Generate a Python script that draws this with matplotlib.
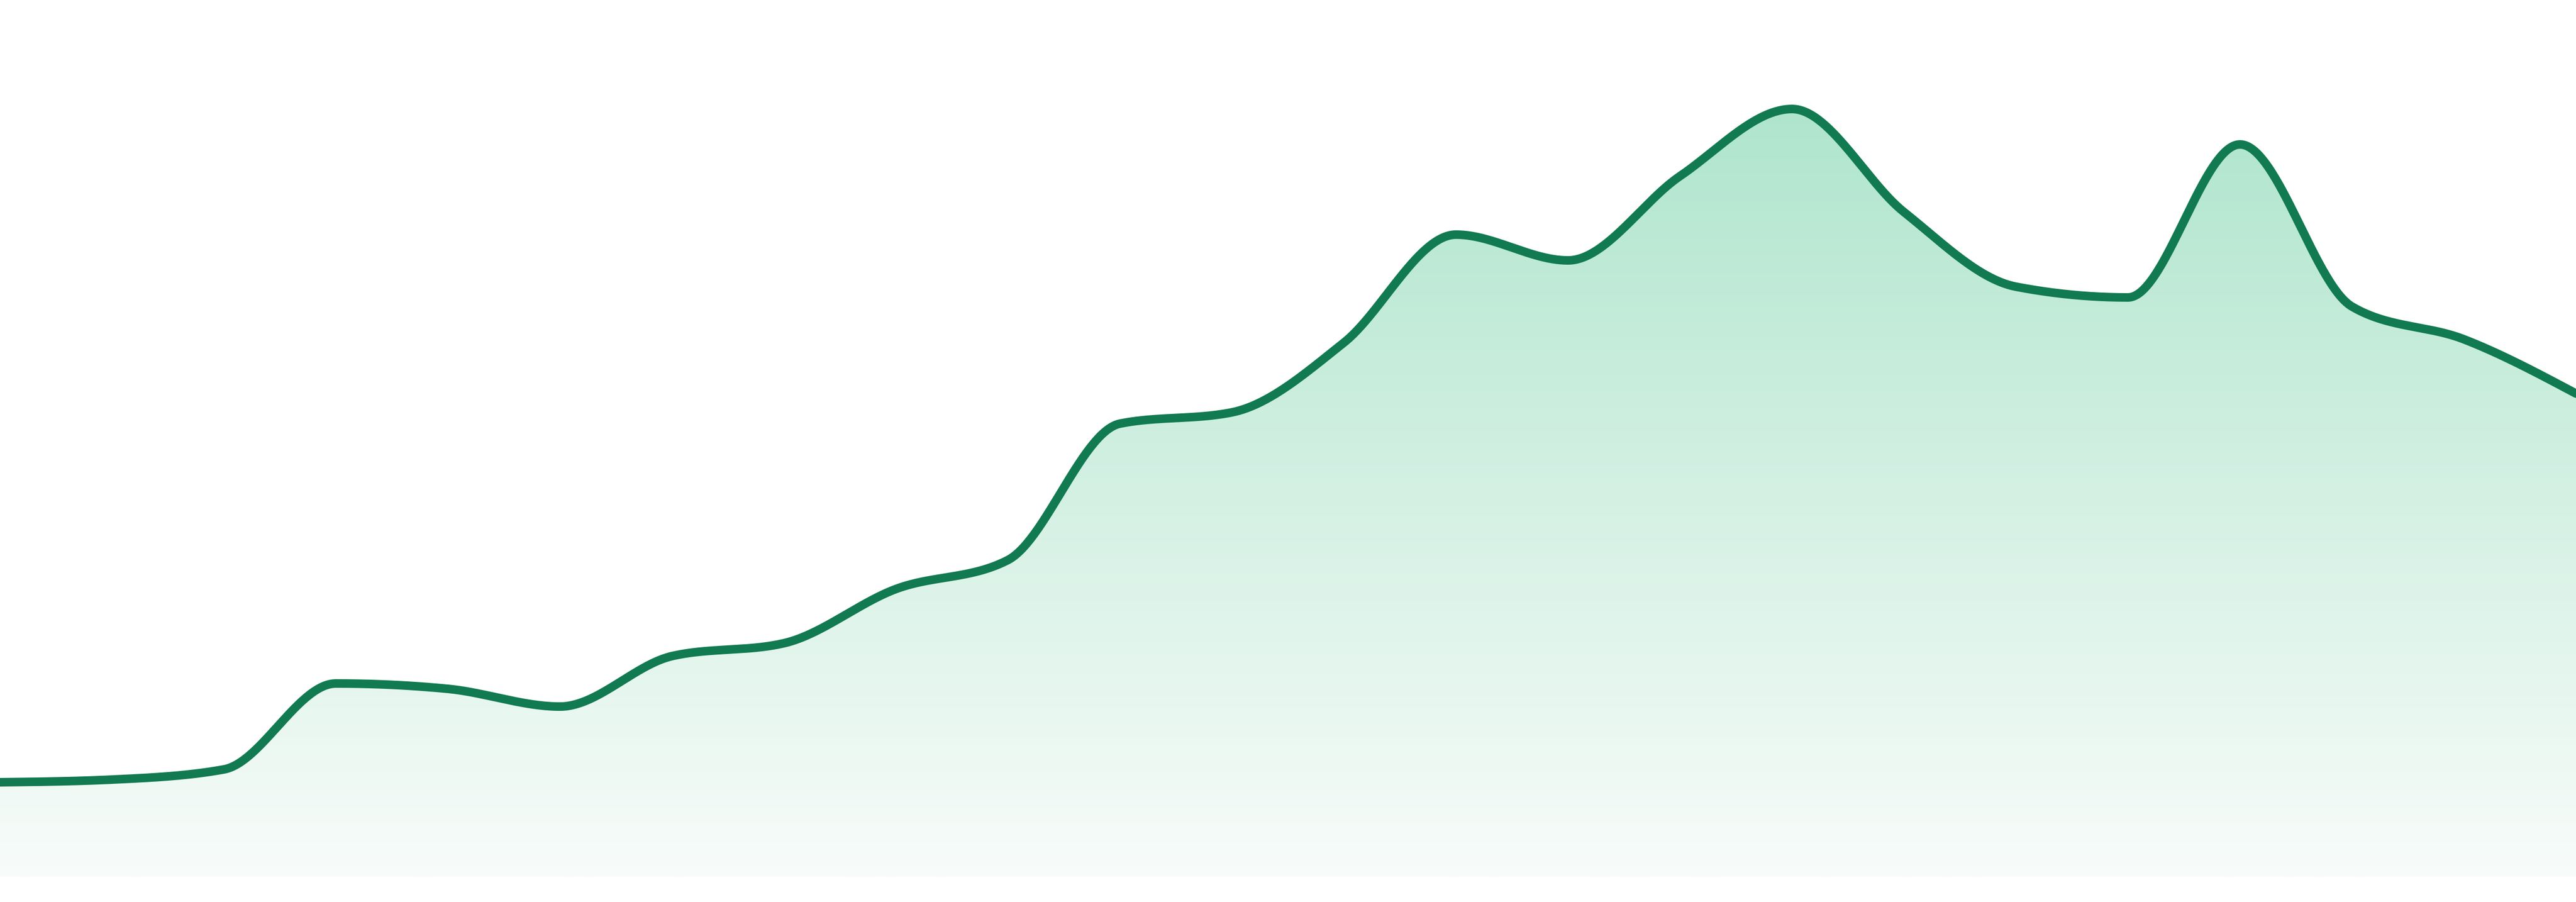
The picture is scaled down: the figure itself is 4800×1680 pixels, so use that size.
import numpy as np
import matplotlib
matplotlib.use("Agg")
import matplotlib.pyplot as plt
from matplotlib.path import Path
from matplotlib.patches import PathPatch
from matplotlib.colors import LinearSegmentedColormap

# ---- data ----
x_index = list(range(24))
values = [17.6, 18.1, 20.0, 36.0, 35.0, 31.7, 41.1, 43.5, 53.6, 59.0, 84.4, 86.5,
          99.5, 119.6, 114.8, 130.5, 143.0, 123.8, 109.9, 107.9, 136.4, 106.2, 100.1, 90.0]

line_color = "#117a51"
fill_top = "#afe5cd"
fill_bottom = "#f8fcfa"


def monotone_x(x, y, n=60):
    """Monotone cubic interpolation (same rule as d3.curveMonotoneX)."""
    x = np.asarray(x, float)
    y = np.asarray(y, float)
    h = np.diff(x)
    s = np.diff(y) / h
    m = len(x)
    t = np.zeros(m)
    for i in range(1, m - 1):
        p = (s[i - 1] * h[i] + s[i] * h[i - 1]) / (h[i - 1] + h[i])
        t[i] = (np.sign(s[i - 1]) + np.sign(s[i])) * min(abs(s[i - 1]), abs(s[i]), 0.5 * abs(p))
    t[0] = (3 * s[0] - t[1]) / 2
    t[-1] = (3 * s[-1] - t[-2]) / 2
    xs, ys = [], []
    for i in range(m - 1):
        u = np.linspace(0, 1, n, endpoint=(i == m - 2))
        y0, y1 = y[i], y[i + 1]
        c0 = y0 + h[i] / 3 * t[i]
        c1 = y1 - h[i] / 3 * t[i + 1]
        yy = (1 - u) ** 3 * y0 + 3 * (1 - u) ** 2 * u * c0 + 3 * (1 - u) * u ** 2 * c1 + u ** 3 * y1
        xs.append(x[i] + u * h[i])
        ys.append(yy)
    return np.concatenate(xs), np.concatenate(ys)


cx, cy = monotone_x(x_index, values)

fig = plt.figure(figsize=(16, 5.6), dpi=300)
ax = fig.add_axes([0, 0, 1, 1])
ax.set_xlim(x_index[0], x_index[-1])
ax.set_ylim(-4.7, 163.3)
ax.axis("off")

# gradient area
px = np.r_[cx, cx[-1], cx[0], cx[0]]
py = np.r_[cy, 0, 0, cy[0]]
poly = Path(np.column_stack([px, py]))
patch = PathPatch(poly, facecolor="none", edgecolor="none")
ax.add_patch(patch)
cmap = LinearSegmentedColormap.from_list("g", [fill_bottom, fill_top])
ytop = max(values) + 0.8
grad = np.linspace(0, 1, 512).reshape(-1, 1)
im = ax.imshow(grad, cmap=cmap, origin="lower", aspect="auto",
               extent=[x_index[0], x_index[-1], 0, ytop], interpolation="bicubic", zorder=1)
im.set_clip_path(patch)

ax.plot(cx, cy, color=line_color, lw=3.84, solid_capstyle="round", solid_joinstyle="round", zorder=3)

fig.savefig("out.png", dpi=300, facecolor="white")
